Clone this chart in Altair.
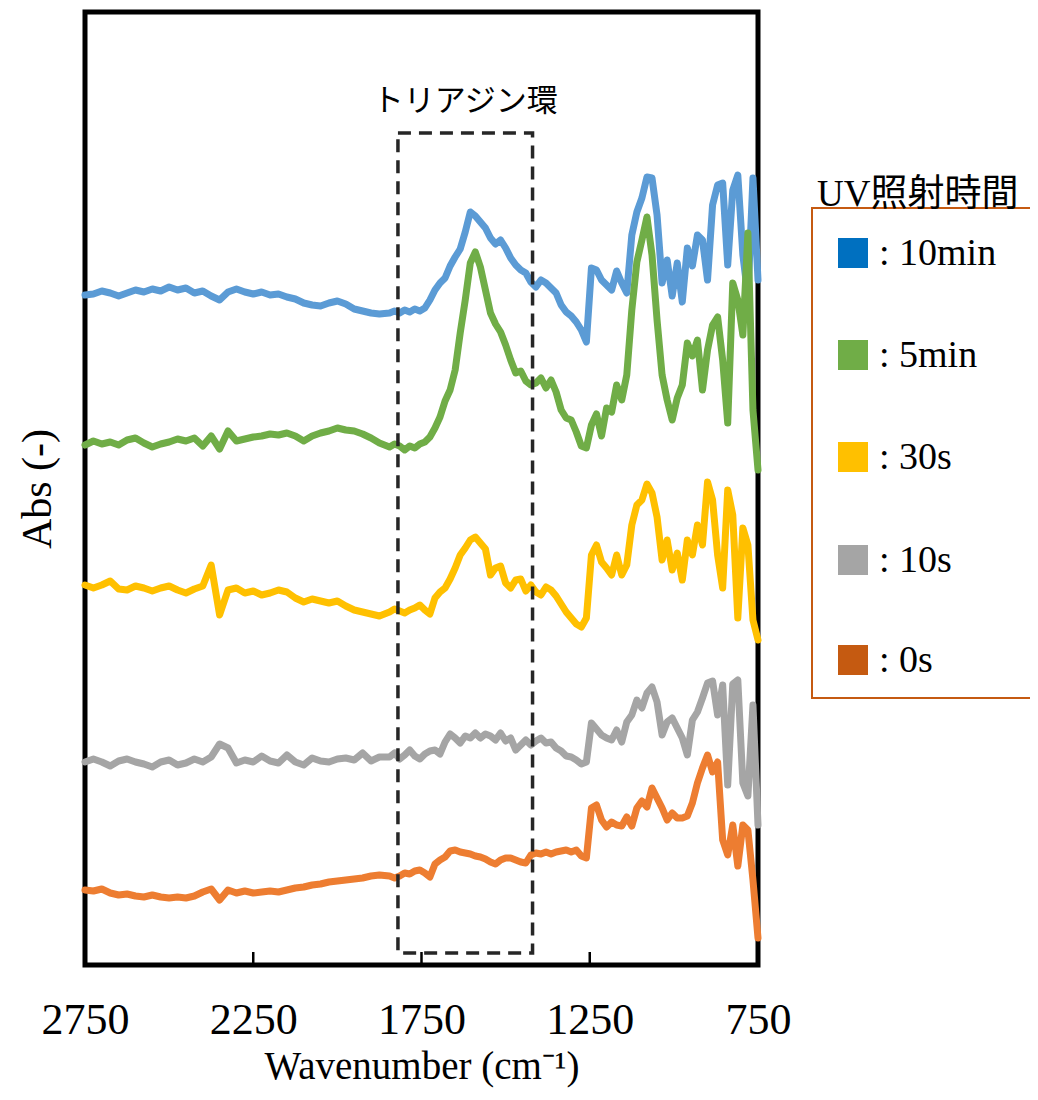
import altair as alt
import pandas as pd

# ---------------- data ----------------
wn_left = list(range(2750, 1874, -25))   # 2750 .. 1875
wn_right = list(range(1845, 749, -15))   # 1845 .. 750
wavenumbers = wn_left + wn_right

series_names = ["10min", "5min", "30s", "10s", "0s"]
line_colors = ["#5B9BD5", "#70AD47", "#FFC000", "#A5A5A5", "#ED7D31"]
legend_colors = ["#0070C0", "#70AD47", "#FFC000", "#A5A5A5", "#C55A11"]

abs_10min = [
    670, 671, 674, 672, 669, 672, 675, 673, 676, 674,
    678, 675, 677, 672, 674, 669, 665, 673, 676, 673,
    671, 673, 670, 671, 668, 666, 662, 660, 659, 662,
    664, 661, 656, 654, 652, 651,
    652, 654, 652, 655, 653, 656, 654, 657, 665, 675,
    682, 687, 699, 708, 716, 733, 753, 749, 743, 737,
    727, 721, 725, 717, 707, 700, 695, 692, 683, 678,
    685, 682, 677, 672, 660, 653, 649, 643, 635, 623,
    697, 695, 685, 680, 675, 694, 682, 672, 730, 753,
    767, 788, 787, 750, 682, 705, 669, 702, 663, 717,
    699, 730, 725, 685, 760, 780, 782, 700, 775, 790,
    710, 669, 787, 685,
]
abs_5min = [
    520, 524, 521, 523, 520, 525, 527, 522, 518, 521,
    523, 526, 524, 527, 519, 529, 516, 534, 524, 526,
    528, 529, 531, 530, 532, 529, 524, 529, 532, 534,
    537, 535, 534, 531, 527, 522,
    518, 521, 519, 515, 519, 517, 521, 523, 528, 537,
    548, 564, 575, 595, 632, 665, 702, 713, 698, 675,
    652, 641, 633, 620, 605, 592, 594, 584, 580, 582,
    587, 577, 585, 573, 555, 547, 545, 533, 519, 517,
    540, 551, 529, 557, 553, 580, 565, 590, 655, 703,
    725, 748, 710, 645, 590, 565, 545, 567, 580, 622,
    609, 625, 575, 615, 640, 648, 605, 542, 682, 665,
    630, 732, 555, 495,
]
abs_30s = [
    380, 377, 380, 384, 376, 375, 379, 377, 374, 377,
    379, 375, 372, 376, 379, 400, 350, 375, 377, 372,
    374, 370, 372, 375, 373, 367, 363, 366, 364, 362,
    364, 359, 355, 353, 351, 349,
    353, 356, 354, 352, 355, 357, 360, 355, 351, 367,
    373, 377, 386, 397, 410, 417, 425, 428, 422, 416,
    390, 397, 399, 382, 377, 385, 386, 374, 380, 373,
    370, 378, 375, 369, 361, 353, 347, 341, 338, 347,
    410, 420, 403, 397, 390, 410, 390, 400, 440, 460,
    465, 481, 472, 448, 405, 425, 395, 412, 385, 425,
    410, 440, 420, 483, 465, 410, 377, 475, 450, 347,
    437, 420, 345, 325,
]
abs_10s = [
    203, 206, 203, 199, 204, 206, 203, 201, 198, 203,
    205, 200, 202, 206, 203, 208, 221, 217, 202, 205,
    203, 209, 204, 202, 210, 203, 200, 207, 204, 203,
    206, 207, 205, 212, 204, 208,
    208, 212, 206, 210, 215, 209, 206, 211, 214, 215,
    211, 223, 231, 227, 222, 229, 227, 232, 227, 231,
    229, 225, 232, 224, 227, 215, 220, 225, 220, 224,
    227, 222, 223, 217, 214, 209, 208, 205, 201, 203,
    242, 236, 230, 227, 225, 235, 223, 243, 250, 265,
    257, 272, 278, 263, 230, 243, 247, 237, 227, 210,
    245, 253, 267, 282, 284, 250, 280, 180, 281, 285,
    182, 169, 260, 140,
]
abs_0s = [
    75, 74, 76, 72, 70, 71, 69, 68, 70, 68,
    67, 68, 67, 69, 73, 76, 65, 75, 72, 74,
    72, 73, 74, 73, 75, 77, 78, 80, 81, 83,
    84, 85, 86, 87, 89, 90,
    89, 87, 89, 92, 91, 94, 95, 92, 88, 101,
    105, 108, 114, 115, 113, 112, 111, 109, 108, 106,
    103, 101, 105, 107, 107, 105, 103, 102, 110, 112,
    111, 113, 111, 113, 114, 115, 113, 115, 109, 107,
    157, 160, 145, 138, 143, 140, 139, 148, 139, 157,
    164, 158, 177, 167, 157, 145, 152, 147, 147, 149,
    162, 182, 197, 210, 193, 203, 125, 110, 140, 99,
    140, 135, 85, 27,
]

tick_values = [2750, 2250, 1750, 1250, 750]
inner_ticks = [2250, 1750, 1250]
box_wn = [1820, 1420]
box_abs = [12, 832]
ring_label = "トリアジン環"
ring_label_pos = [1620, 863]
legend_title = "UV照射時間"

# ---------------- build ----------------
all_series = [abs_10min, abs_5min, abs_30s, abs_10s, abs_0s]
rows = []
for name, vals in zip(series_names, all_series):
    for w, v in zip(wavenumbers, vals):
        rows.append({"series": name, "wn": w, "abs": v})
df = pd.DataFrame(rows)

SERIF = "Liberation Serif"
CJK = "Noto Sans CJK JP"

xscale = alt.Scale(domain=[750, 2750], reverse=True, nice=False, zero=False)
yscale = alt.Scale(domain=[0, 953], nice=False, zero=False)

lines = alt.Chart(df).mark_line(
    strokeWidth=7, strokeCap="round", strokeJoin="round"
).encode(
    x=alt.X("wn:Q", scale=xscale,
            axis=alt.Axis(values=tick_values, title="Wavenumber (cm⁻¹)",
                          ticks=False, domain=False, grid=False,
                          labelFont=SERIF, labelFontSize=44, labelColor="black",
                          labelPadding=33, labelFlush=False, labelOverlap=False,
                          labelBound=False, format="d",
                          titleFont=SERIF, titleFontSize=39, titleFontWeight="normal",
                          titleColor="black", titlePadding=5)),
    y=alt.Y("abs:Q", scale=yscale,
            axis=alt.Axis(title="Abs (-)", labels=False, ticks=False, domain=False,
                          grid=False, titleFont=SERIF, titleFontSize=42,
                          titleFontWeight="normal", titleColor="black",
                          titlePadding=26)),
    color=alt.Color("series:N", scale=alt.Scale(domain=series_names, range=line_colors),
                    legend=None),
)

ticks = alt.Chart(pd.DataFrame({"t": inner_ticks})).mark_rule(
    color="black", strokeWidth=2.5
).encode(x=alt.X("t:Q", scale=xscale), y=alt.value(940), y2=alt.value(953))

box = alt.Chart(alt.Data(values=[{}])).mark_rect(
    filled=False, stroke="#262626", strokeWidth=3.5, strokeDash=[13, 8]
).encode(
    x=alt.datum(box_wn[0]), x2=alt.datum(box_wn[1]),
    y=alt.datum(box_abs[0]), y2=alt.datum(box_abs[1]),
)

ring = alt.Chart(alt.Data(values=[{}])).mark_text(
    text=ring_label, font=CJK, fontSize=31, color="black",
    align="center", baseline="middle"
).encode(x=alt.datum(ring_label_pos[0]), y=alt.datum(ring_label_pos[1]))

# custom legend (pixel layout relative to the plot area)
leg_layers = []
leg_layers.append(
    alt.Chart(alt.Data(values=[{}])).mark_rect(
        filled=False, stroke="#C55A11", strokeWidth=2
    ).encode(x=alt.value(727), x2=alt.value(1000), y=alt.value(196), y2=alt.value(686))
)
leg_layers.append(
    alt.Chart(alt.Data(values=[{}])).mark_text(
        text=legend_title, font=SERIF + ", " + CJK, fontSize=37, color="black",
        align="left", baseline="middle"
    ).encode(x=alt.value(732), y=alt.value(183))
)
row_y = [241, 343, 445, 548, 648]
for name, col, ry in zip(series_names, legend_colors, row_y):
    leg_layers.append(
        alt.Chart(alt.Data(values=[{}])).mark_rect(color=col, opacity=1).encode(
            x=alt.value(753), x2=alt.value(783), y=alt.value(ry - 15), y2=alt.value(ry + 15)
        )
    )
    leg_layers.append(
        alt.Chart(alt.Data(values=[{}])).mark_text(
            text=": " + name, font=SERIF, fontSize=38, color="black",
            align="left", baseline="middle"
        ).encode(x=alt.value(794), y=alt.value(ry + 1))
    )

chart = alt.layer(lines, box, ticks, ring, *leg_layers).properties(
    width=673, height=953,
    autosize=alt.AutoSizeParams(type="none"),
    padding={"left": 77, "top": 4, "right": 272, "bottom": 127},
    background="white",
).configure_view(stroke="black", strokeWidth=5)

chart.save("out.html", embed_options={"renderer": "svg", "actions": False})
